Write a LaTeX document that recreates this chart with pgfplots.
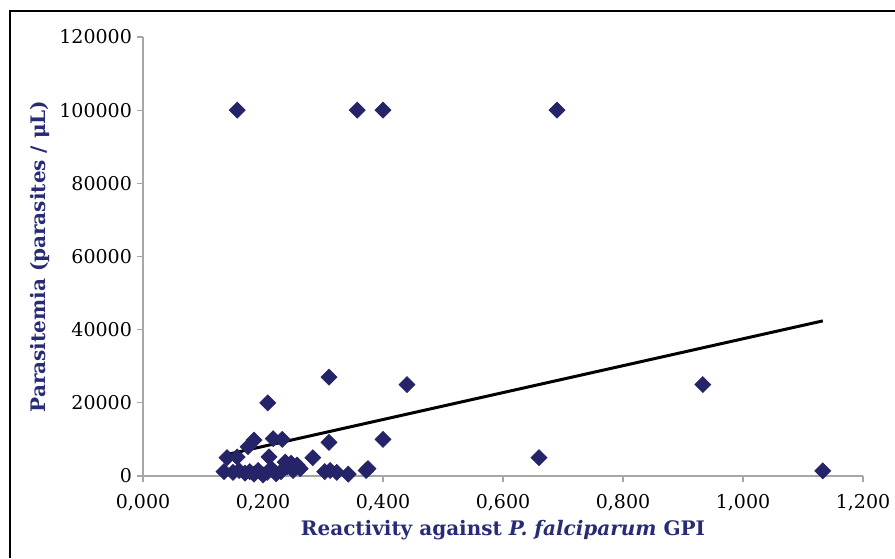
\documentclass[border=0pt]{standalone}
\usepackage{fontspec}
\setmainfont{DejaVu Serif}
\usepackage{pgfplots}
\pgfplotsset{compat=1.18}
\definecolor{navy}{RGB}{38,36,105}
\definecolor{labblue}{RGB}{40,44,118}

\begin{document}
\begin{tikzpicture}[x=1pt,y=1pt]
% picture frame: 895 x 558 px, 1px = 0.5pt
\useasboundingbox (0,0) rectangle (447.5,279);
\draw[line width=1pt] (5,0) -- (5,273.5) -- (447.5,273.5);
\begin{axis}[
    at={(71.5pt,41pt)}, anchor=origin,
    scale only axis,
    width=360pt, height=219.5pt,
    xmin=0, xmax=1.2,
    ymin=0, ymax=120000,
    xtick={0,0.2,0.4,0.6,0.8,1.0,1.2},
    ytick={0,20000,40000,60000,80000,100000,120000},
    axis x line*=bottom,
    axis y line*=left,
    axis line style={-, gray!70, line width=0.6pt},
    tick style={gray!70, line width=0.6pt},
    tick align=outside,
    major tick length=3pt,
    xticklabel style={yshift=-2.5pt, /pgf/number format/.cd, fixed, fixed zerofill, precision=3, use comma},
    yticklabel style={xshift=1pt, /pgf/number format/.cd, fixed, 1000 sep={}},
    scaled ticks=false,
    /pgf/number format/assume math mode=true,
    tick label style={font=\fontsize{9.5}{11}\selectfont, black},
    xlabel={Reactivity against \textit{P.\ falciparum} GPI},
    ylabel={Parasitemia (parasites / μL)},
    label style={font=\fontsize{10}{12}\selectfont\bfseries, labblue},
    xlabel style={yshift=2pt},
    ylabel style={yshift=-2pt},
]
\addplot[only marks, mark=square*, mark size=2.8pt,
    mark options={rotate=45, fill=navy, draw=navy}]
    coordinates {
    (0.157,100000)(0.357,100000)(0.400,100000)(0.690,100000)
    (0.135,1200)(0.150,1000)(0.160,1500)(0.170,800)(0.178,1200)
    (0.185,500)(0.192,1500)(0.200,300)(0.207,1000)(0.215,1800)
    (0.222,600)(0.230,1200)(0.240,2500)(0.250,1500)(0.262,2000)
    (0.303,1200)(0.312,1500)(0.323,1000)(0.342,500)(0.372,1500)(0.375,2000)
    (0.140,5000)(0.157,5200)(0.175,8000)(0.185,9800)(0.210,5200)
    (0.217,10200)(0.232,10000)(0.237,3800)(0.247,3500)(0.257,3000)
    (0.283,5000)(0.310,9200)(0.310,27000)(0.400,10000)(0.440,25000)
    (0.208,20000)(0.660,5000)(0.933,25000)(1.133,1400)
    };
\addplot[black, line width=1.5pt, no marks]
    coordinates {(0.138,5800)(1.133,42400)};
\end{axis}
\end{tikzpicture}
\end{document}
